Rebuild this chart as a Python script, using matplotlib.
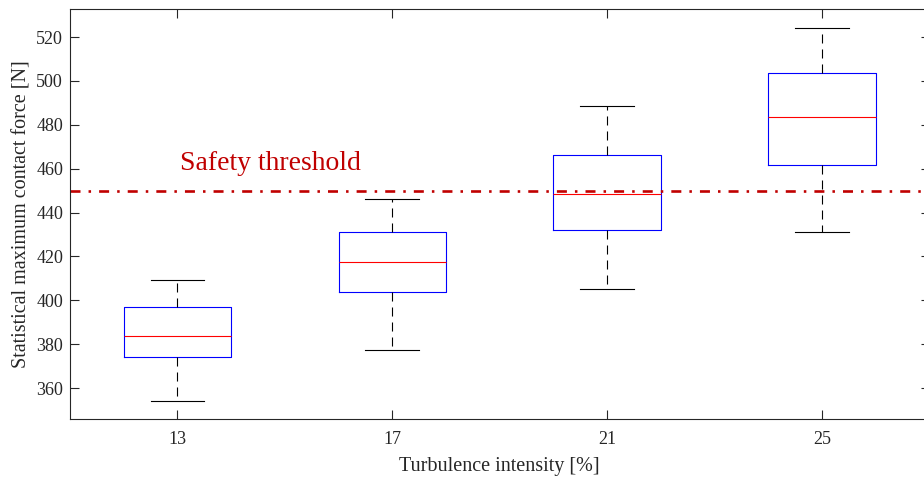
import matplotlib.pyplot as plt

plt.rcParams['font.family'] = ['Liberation Serif', 'DejaVu Serif']
plt.rcParams['lines.scale_dashes'] = False

# turbulence intensity groups and box statistics
groups = ['13', '17', '21', '25']
whislo = [354.1, 377.2, 405.1, 431.1]
q1 = [374.0, 404.0, 431.9, 461.6]
med = [383.6, 417.3, 448.6, 483.7]
q3 = [397.1, 431.1, 466.2, 503.6]
whishi = [409.1, 446.3, 488.7, 524.2]
threshold = 450
yticks = [360, 380, 400, 420, 440, 460, 480, 500, 520]

stats = []
for i in range(len(groups)):
    stats.append({'label': groups[i], 'whislo': whislo[i], 'q1': q1[i], 'med': med[i],
                  'q3': q3[i], 'whishi': whishi[i], 'fliers': []})

fig = plt.figure(figsize=(9.24, 4.79), dpi=100)
ax = fig.add_axes([70 / 924, 1 - 419 / 479, 859.5 / 924, 410 / 479])

txtc = '#262626'
ax.bxp(stats, positions=[1, 2, 3, 4], widths=0.5, showfliers=False,
       boxprops=dict(color='blue', linewidth=0.8),
       medianprops=dict(color='red', linewidth=0.8),
       whiskerprops=dict(color='black', linewidth=0.8, linestyle=(0, (6.5, 4.3))),
       capprops=dict(color='black', linewidth=0.8),
       capwidths=0.25)

ax.axhline(threshold, color='#c00000', linewidth=1.9, linestyle=(0, (7.2, 5.8, 1.8, 5.8)))
ax.text(1.01, 459.5, 'Safety threshold', color='#c00000', fontsize=20, va='baseline')

ax.set_xlim(0.5, 4.5)
ax.set_ylim(345.9, 532.8)
ax.set_yticks(yticks)
ax.set_xticks([1, 2, 3, 4])
ax.set_xticklabels(groups)
ax.tick_params(direction='in', top=True, right=True, length=6.5, width=0.8,
               colors=txtc, labelsize=13)
ax.tick_params(axis='x', pad=8.5)
ax.tick_params(axis='y', pad=5)
for s in ax.spines.values():
    s.set_linewidth(0.8)
    s.set_color(txtc)

ax.set_xlabel('Turbulence intensity [%]', fontsize=14.5, color=txtc, labelpad=6.5)
ax.set_ylabel('Statistical maximum contact force [N]', fontsize=14.5, color=txtc, labelpad=3.5)

fig.savefig('out.png', dpi=100)
